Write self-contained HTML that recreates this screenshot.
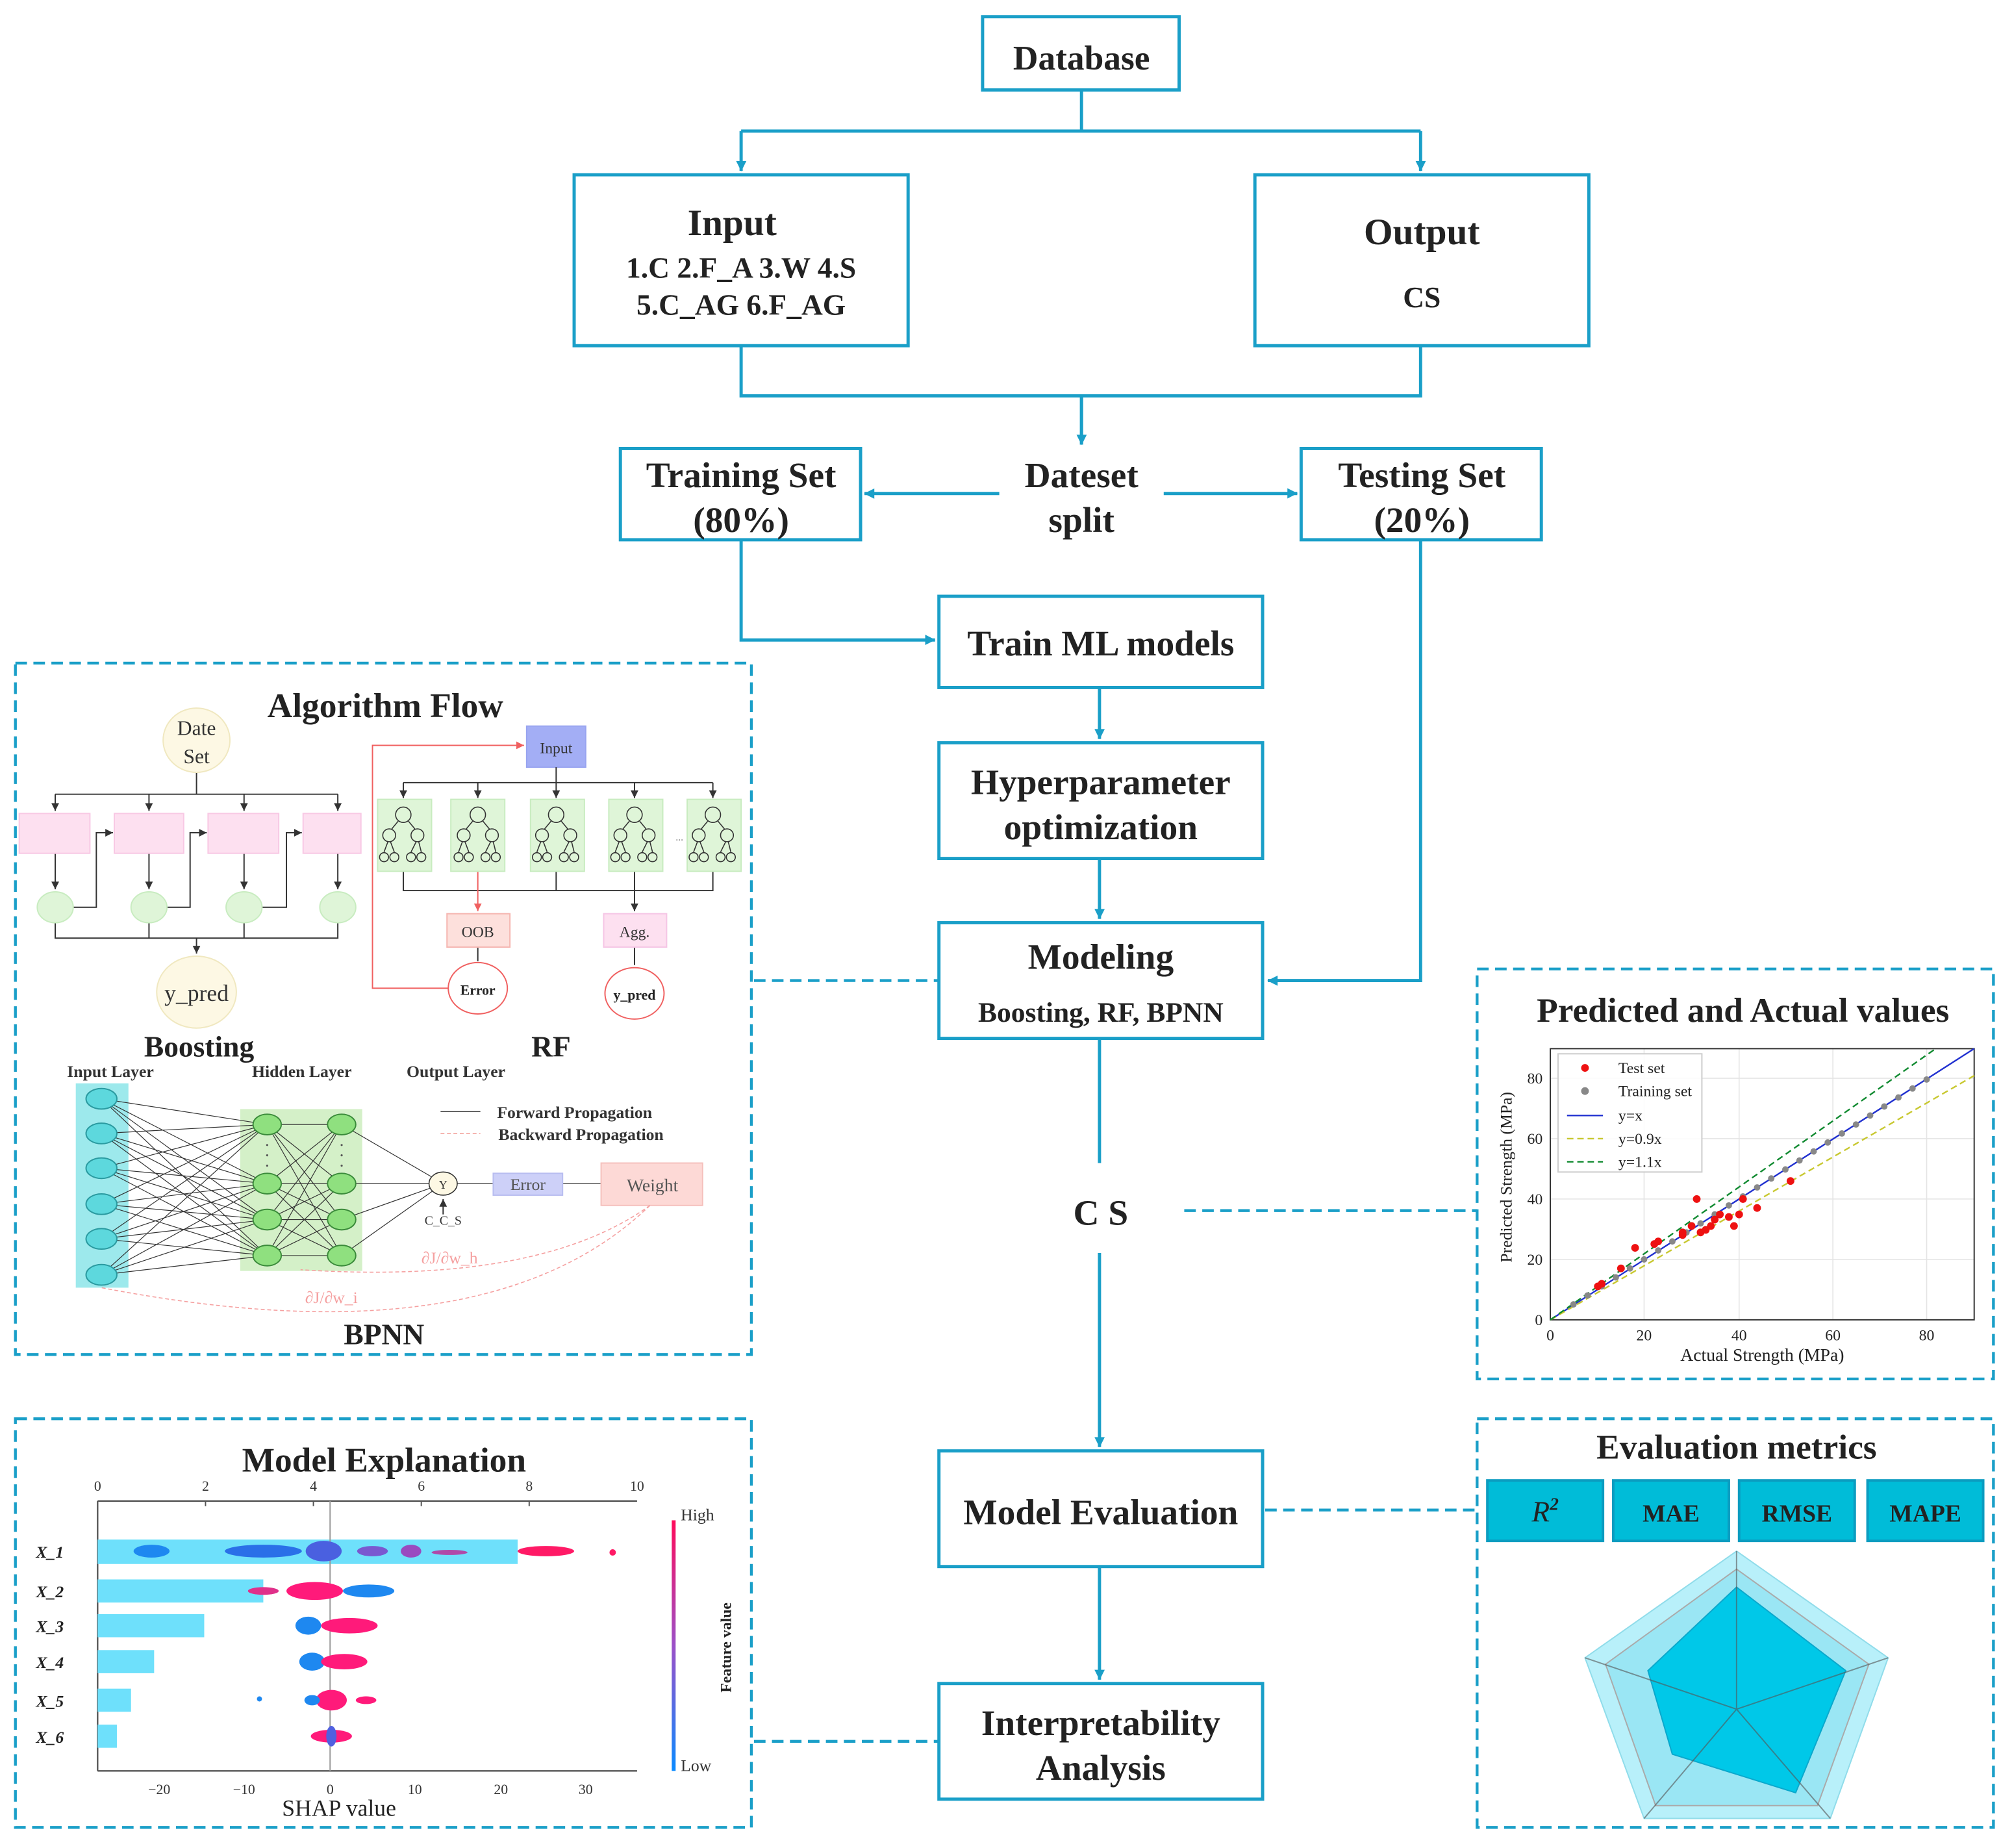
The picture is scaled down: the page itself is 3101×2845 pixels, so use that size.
<!DOCTYPE html>
<html><head><meta charset="utf-8"><style>html,body{margin:0;padding:0;background:#fff}svg{display:block}</style></head>
<body>
<svg width="3101" height="2845" viewBox="0 0 1568 1438" preserveAspectRatio="none" xmlns="http://www.w3.org/2000/svg" font-family="Liberation Serif, serif">
<defs>
<marker id="a" viewBox="0 0 10 10" refX="9" refY="5" markerWidth="5" markerHeight="5" orient="auto" markerUnits="userSpaceOnUse" style="overflow:visible"><path d="M0,0 L10,5 L0,10 z" fill="#1a9fc8" transform="scale(1.6) translate(-4,-2)"/></marker>
<marker id="k" viewBox="0 0 10 10" refX="10" refY="5" markerWidth="6" markerHeight="6" orient="auto" markerUnits="userSpaceOnUse"><path d="M0,0 L10,5 L0,10 z" fill="#333"/></marker>
<marker id="r" viewBox="0 0 10 10" refX="10" refY="5" markerWidth="6" markerHeight="6" orient="auto" markerUnits="userSpaceOnUse"><path d="M0,0 L10,5 L0,10 z" fill="#f06060"/></marker>
<linearGradient id="cb" x1="0" y1="0" x2="0" y2="1"><stop offset="0" stop-color="#ff0a5a"/><stop offset="0.5" stop-color="#9b50c8"/><stop offset="1" stop-color="#0a8aff"/></linearGradient>
</defs>

<g stroke="#1a9fc8" stroke-width="2.5" fill="none">
<path d="M842,70 V102 M577,102 H1106"/>
<path d="M577,102 V133" marker-end="url(#a)"/>
<path d="M1106,102 V133" marker-end="url(#a)"/>
<path d="M577,269 V308 H1106 V269 M842,308 V346" />
<path d="M842,308 V346" marker-end="url(#a)"/>
<path d="M778,384 H673" marker-end="url(#a)"/>
<path d="M906,384 H1010" marker-end="url(#a)"/>
<path d="M577,420 V498 H728" marker-end="url(#a)"/>
<path d="M856,535 V575" marker-end="url(#a)"/>
<path d="M856,668 V715" marker-end="url(#a)"/>
<path d="M1106,420 V763 H987" marker-end="url(#a)"/>
<path d="M856,808 V905 M856,975 V1126" marker-end="url(#a)"/>
<path d="M856,1219 V1307" marker-end="url(#a)"/>
</g>
<g stroke="#1a9fc8" stroke-width="2.5" fill="#fff">
<rect x="765" y="13" width="153" height="57"/>
<rect x="447" y="136" width="260" height="133"/>
<rect x="977" y="136" width="260" height="133"/>
<rect x="483" y="349" width="187" height="71"/>
<rect x="1013" y="349" width="187" height="71"/>
<rect x="731" y="464" width="252" height="71"/>
<rect x="731" y="578" width="252" height="90"/>
<rect x="731" y="718" width="252" height="90"/>
<rect x="731" y="1129" width="252" height="90"/>
<rect x="731" y="1310" width="252" height="90"/>
</g>
<g font-weight="bold" fill="#222" text-anchor="middle">
<text x="842" y="54" font-size="27">Database</text>
<text x="570" y="183" font-size="29">Input</text>
<text x="577" y="216" font-size="23">1.C 2.F_A 3.W 4.S</text>
<text x="577" y="245" font-size="23">5.C_AG 6.F_AG</text>
<text x="1107" y="190" font-size="29">Output</text>
<text x="1107" y="239" font-size="23">CS</text>
<text x="577" y="379" font-size="28">Training Set</text>
<text x="577" y="414" font-size="28">(80%)</text>
<text x="1107" y="379" font-size="28">Testing Set</text>
<text x="1107" y="414" font-size="28">(20%)</text>
<text x="842" y="379" font-size="28">Dateset</text>
<text x="842" y="414" font-size="28">split</text>
<text x="857" y="510" font-size="28">Train ML models</text>
<text x="857" y="618" font-size="28">Hyperparameter</text>
<text x="857" y="653" font-size="28">optimization</text>
<text x="857" y="754" font-size="28">Modeling</text>
<text x="857" y="795" font-size="22">Boosting, RF, BPNN</text>
<text x="857" y="953" font-size="28">C S</text>
<text x="857" y="1186" font-size="28">Model Evaluation</text>
<text x="857" y="1350" font-size="28">Interpretability</text>
<text x="857" y="1385" font-size="28">Analysis</text>
</g>

<g stroke="#1a9fc8" stroke-width="2.2" fill="none" stroke-dasharray="9,5">
<rect x="12" y="516" width="573" height="538"/>
<rect x="1150" y="754" width="402" height="319"/>
<rect x="12" y="1104" width="573" height="318"/>
<rect x="1150" y="1104" width="402" height="318"/>
<path d="M587,763 H731 M922,942 H1150 M587,1355 H731 M985,1175 H1150"/>
</g>

<text x="300" y="558" font-size="27" font-weight="bold" text-anchor="middle" fill="#222">Algorithm Flow</text>
<g stroke="#333" stroke-width="1" fill="none">
<path d="M153,599 V618 M43,618 H263"/>
<path d="M43,618 V631" marker-end="url(#k)"/><path d="M116,618 V631" marker-end="url(#k)"/>
<path d="M190,618 V631" marker-end="url(#k)"/><path d="M263,618 V631" marker-end="url(#k)"/>
<path d="M43,664 V692" marker-end="url(#k)"/><path d="M116,664 V692" marker-end="url(#k)"/>
<path d="M190,664 V692" marker-end="url(#k)"/><path d="M263,664 V692" marker-end="url(#k)"/>
<path d="M56,706 H75 V648 H88" marker-end="url(#k)"/>
<path d="M129,706 H148 V648 H161" marker-end="url(#k)"/>
<path d="M203,706 H223 V648 H235" marker-end="url(#k)"/>
<path d="M43,718 V730 H263 V718 M116,718 V730 M190,718 V730"/>
<path d="M153,730 V742" marker-end="url(#k)"/>
</g>
<ellipse cx="153" cy="576" rx="26" ry="25" fill="#fdf8e4" stroke="#f0e8c0"/>
<text x="153" y="572" font-size="16" text-anchor="middle" fill="#333">Date</text>
<text x="153" y="594" font-size="16" text-anchor="middle" fill="#333">Set</text>
<g fill="#fde0f0" stroke="#f8c8e4"><rect x="15" y="633" width="55" height="31"/><rect x="89" y="633" width="54" height="31"/><rect x="162" y="633" width="55" height="31"/><rect x="236" y="633" width="45" height="31"/></g>
<g fill="#dff5d8" stroke="#c8ecc0"><ellipse cx="43" cy="706" rx="14" ry="12"/><ellipse cx="116" cy="706" rx="14" ry="12"/><ellipse cx="190" cy="706" rx="14" ry="12"/><ellipse cx="263" cy="706" rx="14" ry="12"/></g>
<ellipse cx="153" cy="772" rx="31" ry="28" fill="#fdf8e4" stroke="#f0e8c0"/>
<text x="153" y="779" font-size="18" text-anchor="middle" fill="#333">y_pred</text>
<text x="155" y="822" font-size="23" font-weight="bold" text-anchor="middle" fill="#222">Boosting</text>
<text x="429" y="822" font-size="23" font-weight="bold" text-anchor="middle" fill="#222">RF</text>
<path d="M350,769 H290 V580 H408" stroke="#f06060" fill="none" stroke-width="1" marker-end="url(#r)"/>
<rect x="410" y="565" width="46" height="32" fill="#a3aef5" stroke="#98a4f0"/>
<text x="433" y="586" font-size="12" text-anchor="middle" fill="#333">Input</text>
<g stroke="#333" stroke-width="1" fill="none">
<path d="M433,597 V609 M314,609 H555"/>
<path d="M314,609 V621" marker-end="url(#k)"/><path d="M372,609 V621" marker-end="url(#k)"/><path d="M433,609 V621" marker-end="url(#k)"/><path d="M494,609 V621" marker-end="url(#k)"/><path d="M555,609 V621" marker-end="url(#k)"/>
<path d="M314,678 V693 H555 V678 M433,678 V693"/>
<path d="M494,678 V709" marker-end="url(#k)"/>
<path d="M372,737 V748 M494,737 V751"/>
</g>
<path d="M372,678 V709" stroke="#f06060" marker-end="url(#r)"/>
<g fill="#dff5d8" stroke="#c8ecc0">
<rect x="294" y="622" width="42" height="56"/><rect x="351" y="622" width="42" height="56"/><rect x="413" y="622" width="42" height="56"/><rect x="474" y="622" width="42" height="56"/><rect x="535" y="622" width="42" height="56"/>
</g>
<g fill="none" stroke="#333" stroke-width="0.8">
<g id="tr"><circle cx="314" cy="634" r="6"/><circle cx="303" cy="650" r="5"/><circle cx="325" cy="650" r="5"/><circle cx="299" cy="667" r="3.5"/><circle cx="307" cy="667" r="3.5"/><circle cx="320" cy="667" r="3.5"/><circle cx="328" cy="667" r="3.5"/><path d="M310,639 L305,645 M318,639 L323,645 M302,655 L299,663 M304,655 L307,663 M324,655 L320,663 M326,655 L328,663"/></g>
<use href="#tr" x="58"/><use href="#tr" x="119"/><use href="#tr" x="180"/><use href="#tr" x="241"/>
</g>
<text x="526" y="654" font-size="8" fill="#888">...</text>
<rect x="348" y="711" width="49" height="26" fill="#fde0dc" stroke="#f5b5b0"/>
<text x="372" y="729" font-size="12" text-anchor="middle" fill="#333">OOB</text>
<rect x="470" y="711" width="49" height="26" fill="#fde0f0" stroke="#f5c5e5"/>
<text x="494" y="729" font-size="12" text-anchor="middle" fill="#333">Agg.</text>
<ellipse cx="372" cy="769" rx="23" ry="20" fill="#fff" stroke="#f06060"/>
<text x="372" y="774" font-size="11" font-weight="bold" text-anchor="middle" fill="#222">Error</text>
<ellipse cx="494" cy="773" rx="23" ry="20" fill="#fff" stroke="#f06060"/>
<text x="494" y="778" font-size="11" font-weight="bold" text-anchor="middle" fill="#222">y_pred</text>
<g font-size="13" font-weight="bold" fill="#333" text-anchor="middle"><text x="86" y="838">Input Layer</text><text x="235" y="838">Hidden Layer</text><text x="355" y="838">Output Layer</text></g>
<rect x="59" y="843" width="41" height="159" fill="#9de9ec"/>
<rect x="187" y="863" width="95" height="126" fill="#d4f0c8"/>
<g stroke="#333" stroke-width="0.6">
<path d="M79,855 L208,875 M79,855 L208,921 M79,855 L208,949 M79,855 L208,977 M79,882 L208,875 M79,882 L208,921 M79,882 L208,949 M79,882 L208,977 M79,909 L208,875 M79,909 L208,921 M79,909 L208,949 M79,909 L208,977 M79,937 L208,875 M79,937 L208,921 M79,937 L208,949 M79,937 L208,977 M79,964 L208,875 M79,964 L208,921 M79,964 L208,949 M79,964 L208,977 M79,992 L208,875 M79,992 L208,921 M79,992 L208,949 M79,992 L208,977"/>
<path d="M208,875 L266,875 M208,875 L266,921 M208,875 L266,949 M208,875 L266,977 M208,921 L266,875 M208,921 L266,921 M208,921 L266,949 M208,921 L266,977 M208,949 L266,875 M208,949 L266,921 M208,949 L266,949 M208,949 L266,977 M208,977 L266,875 M208,977 L266,921 M208,977 L266,949 M208,977 L266,977"/>
<path d="M266,875 L345,921 M266,921 L345,921 M266,949 L345,921 M266,977 L345,921 M356,921 H384 M438,921 H468"/>
<path d="M343,865 H374"/>
</g>
<path d="M345,945 V933" stroke="#333" marker-end="url(#k)"/>
<path d="M343,882 H374" stroke="#f5b5b0" stroke-dasharray="3,2"/>
<g fill="#5dd8dd" stroke="#2a9aa0"><ellipse cx="79" cy="855" rx="12" ry="8"/><ellipse cx="79" cy="882" rx="12" ry="8"/><ellipse cx="79" cy="909" rx="12" ry="8"/><ellipse cx="79" cy="937" rx="12" ry="8"/><ellipse cx="79" cy="964" rx="12" ry="8"/><ellipse cx="79" cy="992" rx="12" ry="8"/></g>
<g fill="#8fe07f" stroke="#3a8a3a"><ellipse cx="208" cy="875" rx="11" ry="8"/><ellipse cx="208" cy="921" rx="11" ry="8"/><ellipse cx="208" cy="949" rx="11" ry="8"/><ellipse cx="208" cy="977" rx="11" ry="8"/><ellipse cx="266" cy="875" rx="11" ry="8"/><ellipse cx="266" cy="921" rx="11" ry="8"/><ellipse cx="266" cy="949" rx="11" ry="8"/><ellipse cx="266" cy="977" rx="11" ry="8"/></g>
<g fill="#555"><circle cx="208" cy="891" r="0.8"/><circle cx="208" cy="899" r="0.8"/><circle cx="208" cy="907" r="0.8"/><circle cx="266" cy="891" r="0.8"/><circle cx="266" cy="899" r="0.8"/><circle cx="266" cy="907" r="0.8"/></g>
<ellipse cx="345" cy="921" rx="11" ry="9" fill="#fdf8e4" stroke="#333" stroke-width="0.8"/>
<text x="345" y="925" font-size="9" text-anchor="middle" fill="#333">Y</text>
<text x="345" y="953" font-size="10" text-anchor="middle" fill="#333">C_C_S</text>
<rect x="384" y="913" width="54" height="17" fill="#cdd0f8" stroke="#b8bdf0"/>
<text x="411" y="926" font-size="13" text-anchor="middle" fill="#555">Error</text>
<rect x="468" y="905" width="79" height="33" fill="#fdd9d6" stroke="#f5c0bc"/>
<text x="508" y="927" font-size="14" text-anchor="middle" fill="#555">Weight</text>
<text x="387" y="870" font-size="13" font-weight="bold" fill="#333">Forward Propagation</text>
<text x="388" y="887" font-size="13" font-weight="bold" fill="#333">Backward Propagation</text>
<g stroke="#f5a0a0" stroke-width="0.8" fill="none" stroke-dasharray="3,2">
<path d="M506,938 Q420,1000 234,988"/>
<path d="M506,938 Q380,1060 79,1002"/>
</g>
<text x="350" y="983" font-size="13" text-anchor="middle" fill="#f5a0a0">∂J/∂w_h</text>
<text x="258" y="1014" font-size="13" text-anchor="middle" fill="#f5a0a0">∂J/∂w_i</text>
<text x="299" y="1046" font-size="23" font-weight="bold" text-anchor="middle" fill="#222">BPNN</text>

<text x="1357" y="795" font-size="27" font-weight="bold" text-anchor="middle" fill="#222">Predicted and Actual values</text>
<g stroke="#e4e4e4" stroke-width="0.8"><path d="M1280,816 V1027 M1354,816 V1027 M1427,816 V1027 M1500,816 V1027 M1207,980 H1537 M1207,933 H1537 M1207,886 H1537 M1207,839 H1537"/></g>
<rect x="1207" y="816" width="330" height="211" fill="none" stroke="#333" stroke-width="1"/>
<g font-size="12" fill="#222" text-anchor="middle"><text x="1207" y="1043">0</text><text x="1280" y="1043">20</text><text x="1354" y="1043">40</text><text x="1427" y="1043">60</text><text x="1500" y="1043">80</text>
<text x="1372" y="1059" font-size="14">Actual Strength (MPa)</text></g>
<g font-size="12" fill="#222" text-anchor="end"><text x="1201" y="1031">0</text><text x="1201" y="984">20</text><text x="1201" y="937">40</text><text x="1201" y="890">60</text><text x="1201" y="843">80</text></g>
<text transform="translate(1177,916) rotate(-90)" font-size="13" text-anchor="middle" fill="#222">Predicted Strength (MPa)</text>
<g fill="none" stroke-width="1.2">
<path d="M1207,1027 L1537,816" stroke="#2030d0"/>
<path d="M1207,1027 L1537,837" stroke="#c8c830" stroke-dasharray="5,3"/>
<path d="M1207,1027 L1507,816" stroke="#108a30" stroke-dasharray="5,3"/>
</g>
<g fill="#888"><circle cx="1225" cy="1015" r="2.5"/><circle cx="1236" cy="1008" r="2.5"/><circle cx="1247" cy="1001" r="2.5"/><circle cx="1258" cy="994" r="2.5"/><circle cx="1269" cy="987" r="2.5"/><circle cx="1280" cy="980" r="2.5"/><circle cx="1291" cy="973" r="2.5"/><circle cx="1302" cy="966" r="2.5"/><circle cx="1313" cy="959" r="2.5"/><circle cx="1324" cy="952" r="2.5"/><circle cx="1335" cy="945" r="2.5"/><circle cx="1346" cy="938" r="2.5"/><circle cx="1357" cy="931" r="2.5"/><circle cx="1368" cy="924" r="2.5"/><circle cx="1379" cy="917" r="2.5"/><circle cx="1390" cy="910" r="2.5"/><circle cx="1401" cy="903" r="2.5"/><circle cx="1412" cy="896" r="2.5"/><circle cx="1423" cy="889" r="2.5"/><circle cx="1434" cy="882" r="2.5"/><circle cx="1445" cy="875" r="2.5"/><circle cx="1456" cy="868" r="2.5"/><circle cx="1467" cy="861" r="2.5"/><circle cx="1478" cy="854" r="2.5"/><circle cx="1489" cy="847" r="2.5"/><circle cx="1500" cy="840" r="2.5"/></g>
<g fill="#ee1111"><circle cx="1244" cy="1001" r="3"/><circle cx="1247" cy="999" r="3"/><circle cx="1262" cy="987" r="3"/><circle cx="1273" cy="971" r="3"/><circle cx="1291" cy="966" r="3"/><circle cx="1310" cy="961" r="3"/><circle cx="1317" cy="954" r="3"/><circle cx="1321" cy="933" r="3"/><circle cx="1324" cy="959" r="3"/><circle cx="1328" cy="957" r="3"/><circle cx="1332" cy="954" r="3"/><circle cx="1335" cy="949" r="3"/><circle cx="1339" cy="945" r="3"/><circle cx="1346" cy="947" r="3"/><circle cx="1350" cy="954" r="3"/><circle cx="1354" cy="945" r="3"/><circle cx="1357" cy="933" r="3"/><circle cx="1368" cy="940" r="3"/><circle cx="1394" cy="919" r="3"/><circle cx="1288" cy="968" r="3"/><circle cx="1310" cy="959" r="3"/></g>
<rect x="1213" y="820" width="112" height="92" fill="#fff" fill-opacity="0.85" stroke="#ccc"/>
<g font-size="12" fill="#222"><text x="1260" y="835">Test set</text><text x="1260" y="853">Training set</text><text x="1260" y="872">y=x</text><text x="1260" y="890">y=0.9x</text><text x="1260" y="908">y=1.1x</text></g>
<circle cx="1234" cy="831" r="3" fill="#ee1111"/><circle cx="1234" cy="849" r="3" fill="#888"/>
<path d="M1220,868 H1248" stroke="#2030d0" stroke-width="1.2"/>
<path d="M1220,886 H1248" stroke="#c8c830" stroke-width="1.2" stroke-dasharray="5,3"/>
<path d="M1220,904 H1248" stroke="#108a30" stroke-width="1.2" stroke-dasharray="5,3"/>

<text x="299" y="1145" font-size="27" font-weight="bold" text-anchor="middle" fill="#222">Model Explanation</text>
<g font-size="11" fill="#333" text-anchor="middle"><text x="76" y="1160">0</text><text x="160" y="1160">2</text><text x="244" y="1160">4</text><text x="328" y="1160">6</text><text x="412" y="1160">8</text><text x="496" y="1160">10</text>
<text x="124" y="1396">−20</text><text x="190" y="1396">−10</text><text x="257" y="1396">0</text><text x="323" y="1396">10</text><text x="390" y="1396">20</text><text x="456" y="1396">30</text></g>
<path d="M76,1168 H496 M76,1378 H496 M76,1168 V1378" stroke="#555" stroke-width="1.2" fill="none"/>
<g stroke="#555" stroke-width="1"><path d="M160,1168 v4 M244,1168 v4 M328,1168 v4 M412,1168 v4"/></g>
<g fill="#6ee0fb"><rect x="76" y="1198" width="327" height="19"/><rect x="76" y="1229" width="129" height="18"/><rect x="76" y="1256" width="83" height="18"/><rect x="76" y="1284" width="44" height="18"/><rect x="76" y="1314" width="26" height="18"/><rect x="76" y="1342" width="15" height="18"/></g>
<path d="M257,1168 V1378" stroke="#999" stroke-width="1"/>
<g font-size="13" font-style="italic" font-weight="bold" fill="#222"><text x="28" y="1212">X_1</text><text x="28" y="1243">X_2</text><text x="28" y="1270">X_3</text><text x="28" y="1298">X_4</text><text x="28" y="1328">X_5</text><text x="28" y="1356">X_6</text></g>
<g>
<ellipse cx="118" cy="1207" rx="14" ry="5" fill="#1e88f0"/><ellipse cx="205" cy="1207" rx="30" ry="5" fill="#2a70e8"/><ellipse cx="252" cy="1207" rx="14" ry="8" fill="#4a60e0"/><ellipse cx="290" cy="1207" rx="12" ry="4" fill="#7a58d0"/><ellipse cx="320" cy="1207" rx="8" ry="5" fill="#9a4ac0"/><ellipse cx="350" cy="1208" rx="14" ry="2" fill="#b04aa8"/><ellipse cx="425" cy="1207" rx="22" ry="4" fill="#ff1a66"/><circle cx="477" cy="1208" r="2.5" fill="#ff1a66"/>
<ellipse cx="245" cy="1238" rx="22" ry="7" fill="#ff1a7a"/><ellipse cx="205" cy="1238" rx="12" ry="3" fill="#e0308a"/><ellipse cx="287" cy="1238" rx="20" ry="5" fill="#1e88f0"/>
<ellipse cx="240" cy="1265" rx="10" ry="7" fill="#1e88f0"/><ellipse cx="272" cy="1265" rx="22" ry="6" fill="#ff1a7a"/>
<ellipse cx="243" cy="1293" rx="10" ry="7" fill="#1e88f0"/><ellipse cx="268" cy="1293" rx="18" ry="6" fill="#ff1a7a"/>
<ellipse cx="258" cy="1323" rx="12" ry="8" fill="#ff1a7a"/><ellipse cx="243" cy="1323" rx="6" ry="4" fill="#1e88f0"/><ellipse cx="285" cy="1323" rx="8" ry="3" fill="#ff1a7a"/><circle cx="202" cy="1322" r="2" fill="#1e88f0"/>
<ellipse cx="258" cy="1351" rx="16" ry="5" fill="#ff1a7a"/><ellipse cx="258" cy="1351" rx="4" ry="8" fill="#5060e0"/>
</g>
<rect x="523" y="1183" width="3" height="195" fill="url(#cb)"/>
<text x="530" y="1183" font-size="13" fill="#333">High</text>
<text x="530" y="1378" font-size="13" fill="#333">Low</text>
<text transform="translate(569,1282) rotate(-90)" font-size="12" font-weight="bold" text-anchor="middle" fill="#222">Feature value</text>
<text x="264" y="1413" font-size="18" text-anchor="middle" fill="#222">SHAP value</text>

<text x="1352" y="1135" font-size="27" font-weight="bold" text-anchor="middle" fill="#222">Evaluation metrics</text>
<g fill="#00bcd8" stroke="#0b9cc0" stroke-width="2"><rect x="1158" y="1152" width="90" height="47"/><rect x="1256" y="1152" width="90" height="47"/><rect x="1354" y="1152" width="90" height="47"/><rect x="1454" y="1152" width="90" height="47"/></g>
<g font-size="19" font-weight="bold" fill="#222" text-anchor="middle"><text x="1203" y="1184" font-style="italic" font-weight="normal" font-size="23">R<tspan font-size="14" dy="-9" font-weight="bold">2</tspan></text><text x="1301" y="1184">MAE</text><text x="1399" y="1184">RMSE</text><text x="1499" y="1184">MAPE</text></g>
<polygon points="1352,1207 1470,1290 1425,1415 1280,1415 1234,1290" fill="#b8f0fa" stroke="#90dcea"/>
<polygon points="1352,1221 1455,1295 1415,1405 1289,1405 1250,1295" fill="#9ae6f4" stroke="#aaa" stroke-width="1"/>
<polygon points="1352,1235 1437,1300 1398,1395 1302,1365 1283,1300" fill="#00c8e8" stroke="#0aa8cc"/>
<g stroke="#555" stroke-width="1" opacity="0.6"><path d="M1352,1330 L1352,1207 M1352,1330 L1470,1290 M1352,1330 L1425,1415 M1352,1330 L1280,1415 M1352,1330 L1234,1290"/></g>
</svg>
</body></html>
